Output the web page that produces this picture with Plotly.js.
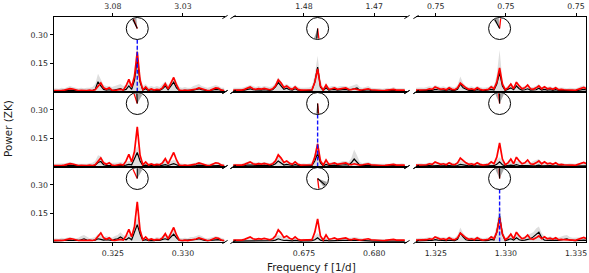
<!DOCTYPE html>
<html><head><meta charset="utf-8">
<script src="https://cdn.plot.ly/plotly-3.0.1.min.js"></script>
<style>html,body{margin:0;padding:0;background:#fff;}#chart{width:589px;height:273px;}</style>
</head><body><div id="chart"></div>
<script>
// ---------------- DATA ----------------
// frequency sampling grid of each column (start, step, count) and the detected peak
const freqStart = [0.32074, 0.66997, 1.32355];
const freqStep = 0.0002;
const nFreq = 62;
const peakFreq = [0.32674, 0.67597, 1.32955];

// bottom tick values / labels (frequency) and top tick labels (period 1/f)
const bottomTicks1 = [0.325, 0.330], bottomText1 = ['0.325', '0.330'], topText1 = ['3.08', '3.03'];
const bottomTicks2 = [0.675, 0.680], bottomText2 = ['0.675', '0.680'], topText2 = ['1.48', '1.47'];
const bottomTicks3 = [1.325, 1.330, 1.335], bottomText3 = ['1.325', '1.330', '1.335'], topText3 = ['0.75', '0.75', '0.75'];
const yTicks = [0.15, 0.30], yTickText = ['0.15', '0.30'];

// observed periodogram (red), same in every row of a column
const redCol1 = [0.006,0.005,0.007,0.006,0.008,0.012,0.016,0.014,0.009,0.006,0.007,0.005,0.006,0.008,0.006,0.010,0.030,0.046,0.020,0.012,0.020,0.008,0.006,0.010,0.012,0.008,0.030,0.065,0.025,0.080,0.210,0.060,0.010,0.025,0.008,0.014,0.008,0.012,0.010,0.020,0.042,0.015,0.050,0.075,0.035,0.008,0.006,0.008,0.005,0.007,0.010,0.014,0.020,0.015,0.008,0.006,0.007,0.012,0.020,0.018,0.008,0.006];
const redCol2 = [0.008,0.007,0.009,0.008,0.012,0.018,0.025,0.015,0.012,0.016,0.013,0.017,0.012,0.010,0.015,0.030,0.062,0.045,0.022,0.030,0.018,0.012,0.025,0.012,0.008,0.009,0.007,0.008,0.010,0.050,0.120,0.030,0.008,0.035,0.012,0.015,0.020,0.012,0.015,0.018,0.020,0.012,0.010,0.015,0.012,0.008,0.010,0.012,0.015,0.010,0.008,0.007,0.008,0.006,0.007,0.009,0.008,0.012,0.008,0.007,0.010,0.008];
const redCol3 = [0.008,0.009,0.010,0.008,0.010,0.015,0.012,0.025,0.018,0.012,0.015,0.010,0.020,0.012,0.010,0.020,0.045,0.030,0.020,0.012,0.015,0.010,0.020,0.012,0.008,0.010,0.012,0.025,0.015,0.050,0.125,0.040,0.010,0.020,0.040,0.015,0.050,0.030,0.015,0.020,0.035,0.015,0.012,0.020,0.030,0.015,0.025,0.015,0.018,0.012,0.020,0.010,0.012,0.010,0.008,0.010,0.008,0.007,0.012,0.020,0.022,0.015];

// model periodograms (black), one per panel
const blackR1C1 = [0.004,0.005,0.004,0.006,0.005,0.008,0.010,0.008,0.005,0.004,0.005,0.004,0.006,0.005,0.006,0.012,0.052,0.030,0.012,0.008,0.010,0.006,0.008,0.012,0.016,0.008,0.012,0.030,0.012,0.060,0.170,0.050,0.008,0.015,0.006,0.010,0.006,0.008,0.006,0.015,0.030,0.010,0.030,0.050,0.020,0.006,0.005,0.006,0.004,0.005,0.008,0.012,0.015,0.010,0.006,0.005,0.006,0.008,0.012,0.010,0.006,0.005];
const blackR2C1 = [0.004,0.004,0.005,0.004,0.005,0.006,0.008,0.006,0.004,0.004,0.004,0.003,0.004,0.005,0.004,0.008,0.022,0.027,0.010,0.006,0.006,0.004,0.005,0.006,0.008,0.006,0.008,0.012,0.010,0.040,0.075,0.030,0.005,0.008,0.004,0.006,0.004,0.005,0.004,0.008,0.010,0.006,0.010,0.016,0.010,0.004,0.004,0.004,0.003,0.004,0.005,0.006,0.008,0.006,0.004,0.004,0.004,0.005,0.008,0.006,0.004,0.004];
const blackR3C1 = [0.004,0.005,0.004,0.006,0.005,0.006,0.008,0.006,0.005,0.006,0.010,0.015,0.008,0.005,0.006,0.008,0.015,0.012,0.008,0.010,0.008,0.006,0.012,0.015,0.025,0.015,0.010,0.020,0.010,0.050,0.090,0.040,0.006,0.010,0.005,0.006,0.005,0.008,0.006,0.012,0.015,0.010,0.025,0.040,0.020,0.006,0.005,0.006,0.005,0.008,0.010,0.012,0.015,0.010,0.006,0.005,0.006,0.008,0.012,0.010,0.006,0.005];
const blackR1C2 = [0.005,0.005,0.006,0.005,0.008,0.012,0.015,0.010,0.008,0.010,0.008,0.010,0.008,0.006,0.010,0.025,0.048,0.030,0.012,0.018,0.010,0.008,0.015,0.008,0.005,0.006,0.005,0.006,0.008,0.050,0.130,0.025,0.006,0.020,0.008,0.010,0.012,0.008,0.010,0.012,0.012,0.008,0.010,0.015,0.020,0.008,0.006,0.008,0.010,0.006,0.005,0.005,0.005,0.004,0.005,0.006,0.005,0.008,0.005,0.005,0.006,0.005];
const blackR2C2 = [0.004,0.004,0.005,0.004,0.006,0.008,0.010,0.008,0.006,0.008,0.006,0.008,0.006,0.005,0.008,0.015,0.030,0.020,0.008,0.012,0.008,0.006,0.010,0.006,0.004,0.005,0.004,0.005,0.006,0.030,0.070,0.020,0.005,0.012,0.006,0.008,0.008,0.006,0.008,0.010,0.010,0.008,0.020,0.040,0.025,0.008,0.005,0.006,0.008,0.005,0.004,0.004,0.004,0.004,0.004,0.005,0.004,0.006,0.004,0.004,0.005,0.004];
const blackR3C2 = [0.003,0.003,0.004,0.003,0.004,0.005,0.006,0.005,0.004,0.005,0.004,0.005,0.004,0.004,0.005,0.008,0.015,0.010,0.006,0.007,0.005,0.004,0.006,0.004,0.003,0.004,0.003,0.004,0.005,0.010,0.020,0.008,0.004,0.006,0.004,0.005,0.005,0.004,0.005,0.006,0.006,0.005,0.006,0.008,0.007,0.005,0.004,0.004,0.005,0.004,0.003,0.003,0.003,0.003,0.003,0.004,0.003,0.004,0.003,0.003,0.004,0.003];
const blackR1C3 = [0.005,0.006,0.006,0.005,0.006,0.008,0.007,0.012,0.010,0.007,0.008,0.006,0.010,0.007,0.006,0.012,0.040,0.020,0.012,0.007,0.008,0.006,0.010,0.007,0.005,0.006,0.007,0.012,0.008,0.040,0.100,0.030,0.006,0.012,0.020,0.010,0.030,0.015,0.008,0.010,0.015,0.008,0.007,0.010,0.018,0.008,0.012,0.008,0.010,0.007,0.010,0.006,0.007,0.006,0.005,0.006,0.005,0.005,0.007,0.010,0.012,0.008];
const blackR2C3 = [0.003,0.004,0.004,0.003,0.004,0.005,0.004,0.006,0.005,0.004,0.005,0.004,0.006,0.004,0.004,0.006,0.012,0.008,0.006,0.004,0.005,0.004,0.006,0.004,0.003,0.004,0.004,0.006,0.005,0.012,0.025,0.010,0.004,0.006,0.008,0.005,0.010,0.006,0.004,0.005,0.006,0.004,0.004,0.005,0.008,0.004,0.005,0.004,0.005,0.004,0.005,0.003,0.004,0.003,0.003,0.004,0.003,0.003,0.004,0.005,0.006,0.004];
const blackR3C3 = [0.004,0.005,0.005,0.004,0.005,0.007,0.006,0.010,0.008,0.006,0.007,0.005,0.008,0.006,0.005,0.012,0.045,0.025,0.010,0.006,0.007,0.005,0.008,0.006,0.004,0.005,0.006,0.012,0.008,0.050,0.135,0.040,0.005,0.010,0.015,0.008,0.020,0.010,0.006,0.008,0.012,0.015,0.025,0.040,0.050,0.020,0.008,0.006,0.008,0.006,0.008,0.006,0.008,0.012,0.015,0.008,0.005,0.005,0.006,0.008,0.008,0.006];

// upper envelope of the grey simulation bundle, one per panel
const grayR1C1 = [0.015,0.018,0.015,0.020,0.018,0.025,0.030,0.025,0.020,0.018,0.020,0.018,0.020,0.020,0.025,0.040,0.095,0.060,0.035,0.030,0.030,0.025,0.030,0.035,0.040,0.030,0.035,0.055,0.040,0.110,0.260,0.090,0.030,0.040,0.025,0.030,0.025,0.030,0.025,0.040,0.055,0.035,0.050,0.080,0.050,0.025,0.020,0.025,0.020,0.020,0.030,0.035,0.040,0.030,0.025,0.020,0.025,0.030,0.035,0.030,0.020,0.020];
const grayR2C1 = [0.015,0.015,0.018,0.015,0.018,0.020,0.025,0.020,0.015,0.015,0.015,0.012,0.015,0.018,0.020,0.030,0.060,0.055,0.030,0.020,0.020,0.018,0.020,0.022,0.025,0.020,0.025,0.030,0.030,0.070,0.110,0.060,0.020,0.025,0.018,0.020,0.018,0.020,0.018,0.025,0.030,0.020,0.030,0.035,0.030,0.018,0.015,0.015,0.012,0.015,0.018,0.020,0.025,0.020,0.015,0.015,0.015,0.018,0.025,0.020,0.015,0.015];
const grayR3C1 = [0.015,0.018,0.015,0.020,0.018,0.020,0.025,0.020,0.018,0.020,0.030,0.035,0.025,0.018,0.020,0.025,0.040,0.035,0.025,0.030,0.025,0.020,0.030,0.035,0.050,0.035,0.030,0.040,0.030,0.090,0.130,0.070,0.020,0.025,0.018,0.020,0.018,0.025,0.020,0.030,0.035,0.030,0.050,0.070,0.040,0.020,0.018,0.020,0.018,0.025,0.025,0.030,0.035,0.030,0.020,0.018,0.020,0.025,0.030,0.025,0.018,0.015];
const grayR1C2 = [0.020,0.020,0.022,0.020,0.025,0.030,0.035,0.030,0.025,0.030,0.025,0.030,0.028,0.025,0.030,0.045,0.075,0.055,0.035,0.040,0.030,0.025,0.035,0.025,0.020,0.020,0.020,0.022,0.030,0.090,0.190,0.060,0.020,0.040,0.025,0.030,0.030,0.025,0.030,0.030,0.030,0.025,0.030,0.035,0.040,0.025,0.020,0.025,0.030,0.020,0.018,0.018,0.018,0.015,0.018,0.020,0.018,0.025,0.018,0.018,0.020,0.018];
const grayR2C2 = [0.015,0.015,0.018,0.015,0.020,0.025,0.030,0.025,0.020,0.025,0.020,0.025,0.020,0.018,0.025,0.035,0.055,0.040,0.025,0.030,0.025,0.020,0.030,0.020,0.015,0.018,0.015,0.018,0.025,0.070,0.140,0.050,0.018,0.030,0.020,0.025,0.025,0.020,0.025,0.030,0.030,0.025,0.045,0.090,0.060,0.025,0.018,0.020,0.025,0.018,0.015,0.015,0.015,0.015,0.015,0.018,0.015,0.020,0.015,0.015,0.018,0.015];
const grayR3C2 = [0.012,0.012,0.015,0.012,0.015,0.018,0.020,0.018,0.015,0.018,0.015,0.018,0.015,0.015,0.018,0.025,0.035,0.030,0.020,0.022,0.018,0.015,0.020,0.015,0.012,0.015,0.012,0.015,0.018,0.030,0.045,0.025,0.015,0.020,0.015,0.018,0.018,0.015,0.018,0.020,0.020,0.018,0.020,0.025,0.022,0.018,0.015,0.015,0.018,0.015,0.012,0.012,0.012,0.012,0.012,0.015,0.012,0.015,0.012,0.012,0.015,0.012];
const grayR1C3 = [0.020,0.022,0.022,0.020,0.022,0.028,0.025,0.035,0.030,0.025,0.028,0.022,0.030,0.025,0.022,0.035,0.080,0.045,0.030,0.025,0.028,0.022,0.030,0.025,0.020,0.022,0.025,0.035,0.030,0.090,0.220,0.060,0.022,0.030,0.045,0.030,0.055,0.035,0.025,0.030,0.035,0.025,0.025,0.030,0.040,0.025,0.030,0.025,0.028,0.022,0.028,0.020,0.022,0.020,0.018,0.020,0.018,0.018,0.022,0.030,0.032,0.025];
const grayR2C3 = [0.015,0.018,0.018,0.015,0.018,0.022,0.020,0.025,0.022,0.020,0.022,0.018,0.025,0.020,0.018,0.025,0.035,0.030,0.025,0.020,0.022,0.018,0.025,0.020,0.015,0.018,0.020,0.025,0.022,0.035,0.050,0.030,0.018,0.025,0.030,0.022,0.030,0.025,0.020,0.022,0.025,0.020,0.030,0.035,0.040,0.025,0.022,0.020,0.022,0.018,0.020,0.015,0.018,0.015,0.015,0.018,0.015,0.015,0.018,0.022,0.025,0.018];
const grayR3C3 = [0.018,0.020,0.020,0.018,0.020,0.025,0.022,0.030,0.028,0.022,0.025,0.020,0.028,0.022,0.020,0.035,0.075,0.045,0.030,0.022,0.025,0.020,0.028,0.022,0.018,0.020,0.022,0.030,0.030,0.090,0.200,0.070,0.020,0.030,0.035,0.028,0.040,0.030,0.022,0.028,0.035,0.040,0.050,0.070,0.080,0.045,0.028,0.022,0.028,0.022,0.025,0.022,0.028,0.032,0.035,0.025,0.020,0.020,0.022,0.025,0.025,0.020];

// phase of the peak (degrees) in each panel, row-major: red, black, grey spread
const phaseRed   = [112, -83, 84, 108, -85, 95, 115, -83, 92];
const phaseBlack = [115, -95, 118, 92, -88, 90, 90, -41, 90];
const phaseGrayLo = [95, -110, 95, 60, -100, 65, 60, -55, 65];
const phaseGrayHi = [122, -88, 125, 100, -80, 115, 92, -20, 115];

// which row shows the dashed marker for each column, and its top
const blueRow = [0, 1, 2];
const blueTop = 0.28;

// ---------------- LAYOUT ----------------
const W = 589, H = 273;
const xDom = [[0.0917, 0.382], [0.3956, 0.691], [0.7063, 0.9949]];
const yDom = [[0.663, 0.9377], [0.3883, 0.663], [0.1136, 0.3883]];
const xRange = [[0.3208, 0.3330], [0.66995, 0.68233], [1.32359, 1.33571]];
const yRange = [-0.002, 0.395];

const redCols = [redCol1, redCol2, redCol3];
const blacks = [[blackR1C1, blackR1C2, blackR1C3], [blackR2C1, blackR2C2, blackR2C3], [blackR3C1, blackR3C2, blackR3C3]];
const grays = [[grayR1C1, grayR1C2, grayR1C3], [grayR2C1, grayR2C2, grayR2C3], [grayR3C1, grayR3C2, grayR3C3]];
const bTicks = [bottomTicks1, bottomTicks2, bottomTicks3];
const bText = [bottomText1, bottomText2, bottomText3];
const tText = [topText1, topText2, topText3];

const freqs = freqStart.map(f0 => Array.from({length: nFreq}, (_, i) => +(f0 + i * freqStep).toFixed(6)));

const tickFont = {family: 'DejaVu Sans', size: 7.8, color: '#262626'};
const traces = [];
const layout = {
  width: W, height: H, margin: {l: 0, r: 0, t: 0, b: 0},
  paper_bgcolor: '#fff', plot_bgcolor: 'rgba(0,0,0,0)', showlegend: false,
  font: {family: 'DejaVu Sans', color: '#262626'},
  shapes: [], annotations: []
};

for (let r = 0; r < 3; r++) {
  for (let c = 0; c < 3; c++) {
    const k = r * 3 + c + 1;
    const sfx = k === 1 ? '' : String(k);
    const xa = 'x' + sfx, ya = 'y' + sfx;
    traces.push({x: freqs[c], y: grays[r][c], xaxis: xa, yaxis: ya, type: 'scatter', mode: 'lines',
      line: {width: 0, color: 'rgba(0,0,0,0)'}, fill: 'tozeroy', fillcolor: 'rgba(0,0,0,0.13)', hoverinfo: 'skip'});
    traces.push({x: freqs[c], y: blacks[r][c], xaxis: xa, yaxis: ya, type: 'scatter', mode: 'lines',
      line: {width: 1.2, color: '#000'}, hoverinfo: 'skip'});
    traces.push({x: freqs[c], y: redCols[c], xaxis: xa, yaxis: ya, type: 'scatter', mode: 'lines',
      line: {width: 1.7, color: '#ff0000'}, hoverinfo: 'skip'});
    if (blueRow[c] === r) {
      traces.push({x: [peakFreq[c], peakFreq[c]], y: [0, blueTop], xaxis: xa, yaxis: ya, type: 'scatter', mode: 'lines',
        line: {width: 1.4, color: '#1010ff', dash: '4px,2px'}, hoverinfo: 'skip'});
    }
    layout['xaxis' + sfx] = {domain: xDom[c], range: xRange[c], anchor: ya, showgrid: false, zeroline: false,
      showline: true, linecolor: '#000', linewidth: 1, mirror: true,
      ticks: r === 2 ? 'outside' : '', ticklen: 3.5, tickwidth: 1, tickcolor: '#000',
      showticklabels: r === 2, tickmode: 'array', tickvals: bTicks[c], ticktext: bText[c], tickfont: tickFont, fixedrange: true};
    layout['yaxis' + sfx] = {domain: yDom[r], range: yRange, anchor: xa, showgrid: false, zeroline: false,
      showline: c !== 1, side: c === 2 ? 'right' : 'left', linecolor: '#000', linewidth: 1,
      ticks: c === 0 ? 'outside' : '', ticklen: 3.5, tickwidth: 1, tickcolor: '#000',
      showticklabels: c === 0, tickmode: 'array', tickvals: yTicks, ticktext: yTickText, tickfont: tickFont, fixedrange: true};

    // broken-axis diagonal marks
    const ends = [];
    if (c < 2) ends.push(1);
    if (c > 0) ends.push(0);
    ends.forEach(ex => [0, 1].forEach(ey => {
      layout.shapes.push({type: 'line', xref: xa + ' domain', yref: ya + ' domain', xsizemode: 'pixel', ysizemode: 'pixel',
        xanchor: ex, yanchor: ey, x0: -2.6, x1: 2.6, y0: -1.6, y1: 1.6, line: {color: '#000', width: 1}});
    }));

    // phase circle (polar inset) at the peak frequency
    const pid = 'polar' + sfx;
    const px = xDom[c][0] + (peakFreq[c] - xRange[c][0]) / (xRange[c][1] - xRange[c][0]) * (xDom[c][1] - xDom[c][0]);
    const py = yDom[r][1] - 11.5 / H;
    const rad = 11;
    layout[pid] = {domain: {x: [px - rad / W, px + rad / W], y: [py - rad / H, py + rad / H]},
      bgcolor: 'rgba(0,0,0,0)',
      angularaxis: {showline: true, linecolor: '#000', linewidth: 1, showticklabels: false, ticks: '', showgrid: false},
      radialaxis: {visible: false, range: [0, 1]}};
    const lo = phaseGrayLo[k - 1], hi = phaseGrayHi[k - 1];
    traces.push({type: 'scatterpolar', subplot: pid, r: [0, 0.92, 0.92, 0.92, 0], theta: [lo, lo, (lo + hi) / 2, hi, lo],
      mode: 'lines', fill: 'toself', fillcolor: 'rgba(120,120,120,0.65)', line: {width: 0, color: 'rgba(0,0,0,0)'}, hoverinfo: 'skip'});
    traces.push({type: 'scatterpolar', subplot: pid, r: [0, 0.92], theta: [phaseRed[k - 1], phaseRed[k - 1]],
      mode: 'lines', line: {width: 1.3, color: '#ff0000'}, hoverinfo: 'skip'});
    traces.push({type: 'scatterpolar', subplot: pid, r: [0, 0.92], theta: [phaseBlack[k - 1], phaseBlack[k - 1]],
      mode: 'lines', line: {width: 1.1, color: '#000'}, hoverinfo: 'skip'});
  }
}

// top period axes for the first row
for (let c = 0; c < 3; c++) {
  const sfx = String(10 + c);
  const baseX = c === 0 ? 'x' : 'x' + (c + 1);
  const baseY = c === 0 ? 'y' : 'y' + (c + 1);
  layout['xaxis' + sfx] = {overlaying: baseX, side: 'top', anchor: baseY, range: xRange[c], showgrid: false, zeroline: false,
    showline: true, linecolor: '#000', linewidth: 1, ticks: 'outside', ticklen: 3.5, tickwidth: 1, tickcolor: '#000',
    tickmode: 'array', tickvals: bTicks[c], ticktext: tText[c], tickfont: tickFont, fixedrange: true};
  traces.push({x: [], y: [], xaxis: 'x' + sfx, yaxis: baseY, type: 'scatter', mode: 'lines', hoverinfo: 'skip'});
}

layout.annotations.push({text: 'Power (ZK)', xref: 'paper', yref: 'paper', x: 8 / W, y: 1 - 129 / H, showarrow: false,
  textangle: -90, xanchor: 'center', yanchor: 'middle', font: {family: 'DejaVu Sans', size: 10.4, color: '#1a1a1a'}});
layout.annotations.push({text: 'Frequency f [1/d]', xref: 'paper', yref: 'paper', x: 311.7 / W, y: 1 - 267 / H, showarrow: false,
  xanchor: 'center', yanchor: 'middle', font: {family: 'DejaVu Sans', size: 10.4, color: '#1a1a1a'}});

Plotly.newPlot('chart', traces, layout, {staticPlot: true, displayModeBar: false});
</script></body></html>
